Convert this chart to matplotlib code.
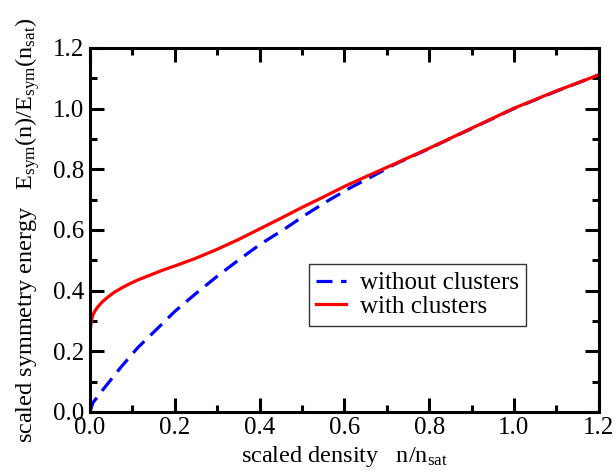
import numpy as np
import matplotlib
matplotlib.use("Agg")
import matplotlib.pyplot as plt
from matplotlib.ticker import MultipleLocator

plt.rcParams['font.family'] = ['Liberation Serif', 'DejaVu Serif']
plt.rcParams['mathtext.fontset'] = 'custom'
plt.rcParams['mathtext.rm'] = 'Liberation Serif'
plt.rcParams['mathtext.it'] = 'Liberation Serif:italic'

# values
n_without = [0.0, 0.007, 0.03, 0.074, 0.113, 0.16, 0.2, 0.247, 0.3, 0.35, 0.4,
             0.46, 0.511, 0.566, 0.617, 0.672, 0.72, 0.8, 0.9, 1.0, 1.1, 1.2]
e_without = [0.0, 0.03, 0.072, 0.149, 0.212, 0.276, 0.331, 0.387, 0.447, 0.5, 0.551,
             0.604, 0.652, 0.7, 0.741, 0.781, 0.817, 0.868, 0.934, 1.0, 1.057, 1.111]

n_with = [0.0, 0.001, 0.003, 0.007, 0.012, 0.019, 0.03, 0.042, 0.057, 0.074, 0.093,
          0.113, 0.133, 0.153, 0.175, 0.2, 0.247, 0.3, 0.35, 0.4, 0.45, 0.5, 0.55,
          0.6, 0.65, 0.7, 0.8, 0.9, 1.0, 1.1, 1.2]
e_with = [0.247, 0.272, 0.298, 0.32, 0.333, 0.347, 0.364, 0.378, 0.394, 0.408, 0.422,
          0.435, 0.446, 0.457, 0.469, 0.481, 0.505, 0.536, 0.568, 0.603, 0.638, 0.674,
          0.708, 0.743, 0.775, 0.806, 0.869, 0.935, 1.001, 1.058, 1.111]

fig = plt.figure(figsize=(6.16, 4.74), dpi=100)
ax = fig.add_axes([0.146, 0.131, 0.826, 0.768])

ax.plot(n_without, e_without, color='#0000ff', lw=2.3, dashes=(5, 2.7),
        label='without clusters')
ax.plot(n_with, e_with, color='#ff0000', lw=2.3, label='with clusters')

ax.set_xlim(0, 1.2)
ax.set_ylim(0, 1.2)
ax.xaxis.set_major_locator(MultipleLocator(0.2))
ax.xaxis.set_minor_locator(MultipleLocator(0.1))
ax.yaxis.set_major_locator(MultipleLocator(0.2))
ax.yaxis.set_minor_locator(MultipleLocator(0.1))
ax.xaxis.set_major_formatter(lambda v, p: f"{v:.1f}")
ax.yaxis.set_major_formatter(lambda v, p: f"{v:.1f}")

ax.tick_params(which='both', direction='in', top=True, right=True, width=2.2)
ax.tick_params(which='major', length=10, labelsize=18, pad=4)
ax.tick_params(which='minor', length=5)
for s in ax.spines.values():
    s.set_linewidth(2.2)

ax.set_xlabel(r"scaled density   n/n$_{\mathrm{sat}}$", fontsize=17.5, labelpad=3)
ax.set_ylabel(r"scaled symmetry energy   E$_{\mathrm{sym}}$(n)/E$_{\mathrm{sym}}$(n$_{\mathrm{sat}}$)",
              fontsize=17.5, labelpad=8)

leg = ax.legend(loc='center', bbox_to_anchor=(0.644, 0.321), fontsize=18,
                handlelength=1.2, handletextpad=0.55, labelspacing=0.05,
                borderpad=0.3, fancybox=False, framealpha=1)
leg.get_frame().set_edgecolor('#333333')
leg.get_frame().set_linewidth(1.0)

fig.savefig("out.png", dpi=100)
